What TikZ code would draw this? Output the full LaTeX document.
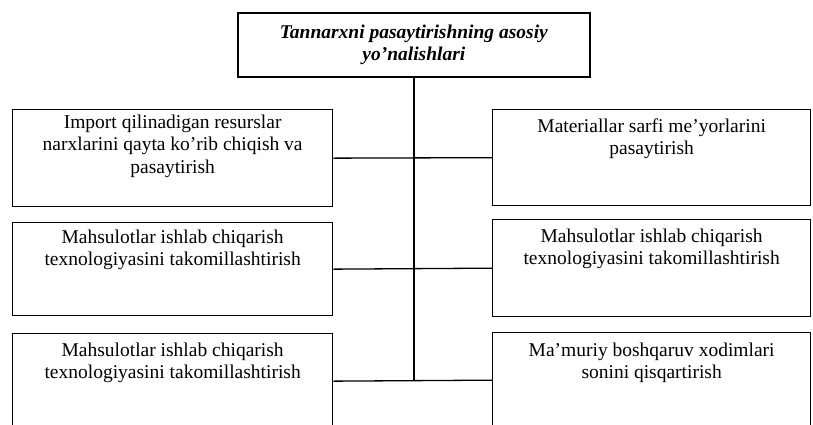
\documentclass[tikz,border=0pt]{standalone}
\usepackage{fontspec}
\setmainfont{Liberation Serif}
\newcommand{\bxtxt}[4]{\parbox[t][#1][t]{#2}{\centering\vspace*{#3}#4}}
\begin{document}
\begin{tikzpicture}[x=1pt,y=-1pt,
  box/.style={draw, line width=1.3pt, inner sep=0pt, anchor=north west,
              font=\fontsize{19.5}{22.5}\selectfont},
  topbox/.style={draw, line width=1.7pt, inner sep=0pt, minimum width=352pt,
                 minimum height=64pt, align=center, anchor=north west,
                 font=\fontsize{19.5}{21.5}\selectfont\bfseries\itshape},
  conn/.style={line width=1.3pt},
  spine/.style={line width=1.8pt}]
\useasboundingbox (0,0) rectangle (813,424);
\clip (0,0) rectangle (813,424);
\fill[white] (0,0) rectangle (813,424);

\node[topbox] (top) at (237,12) {Tannarxni pasaytirishning asosiy\\yo'nalishlari};

\node[box] (l1) at (12,109) {\bxtxt{97pt}{320pt}{5pt}{Import qilinadigan resurslar\\narxlarini qayta ko'rib chiqish va\\pasaytirish}};
\node[box] (l2) at (12,222) {\bxtxt{93pt}{320pt}{7pt}{Mahsulotlar ishlab chiqarish\\texnologiyasini takomillashtirish}};
\node[box] (l3) at (12,333) {\bxtxt{95pt}{320pt}{9pt}{Mahsulotlar ishlab chiqarish\\texnologiyasini takomillashtirish}};

\node[box] (r1) at (492,109) {\bxtxt{96pt}{318pt}{9pt}{Materiallar sarfi me'yorlarini\\pasaytirish}};
\node[box] (r2) at (492,219) {\bxtxt{97pt}{318pt}{9pt}{Mahsulotlar ishlab chiqarish\\texnologiyasini takomillashtirish}};
\node[box] (r3) at (492,332) {\bxtxt{95pt}{318pt}{10pt}{Ma'muriy boshqaruv xodimlari\\sonini qisqartirish}};

\draw[spine] (top.south) -- (top.south |- l3.east);
\draw[conn] (l1.east) -- (r1.west);
\draw[conn] (l2.east) -- (r2.west);
\draw[conn] (l3.east) -- (r3.west);
\end{tikzpicture}
\end{document}
